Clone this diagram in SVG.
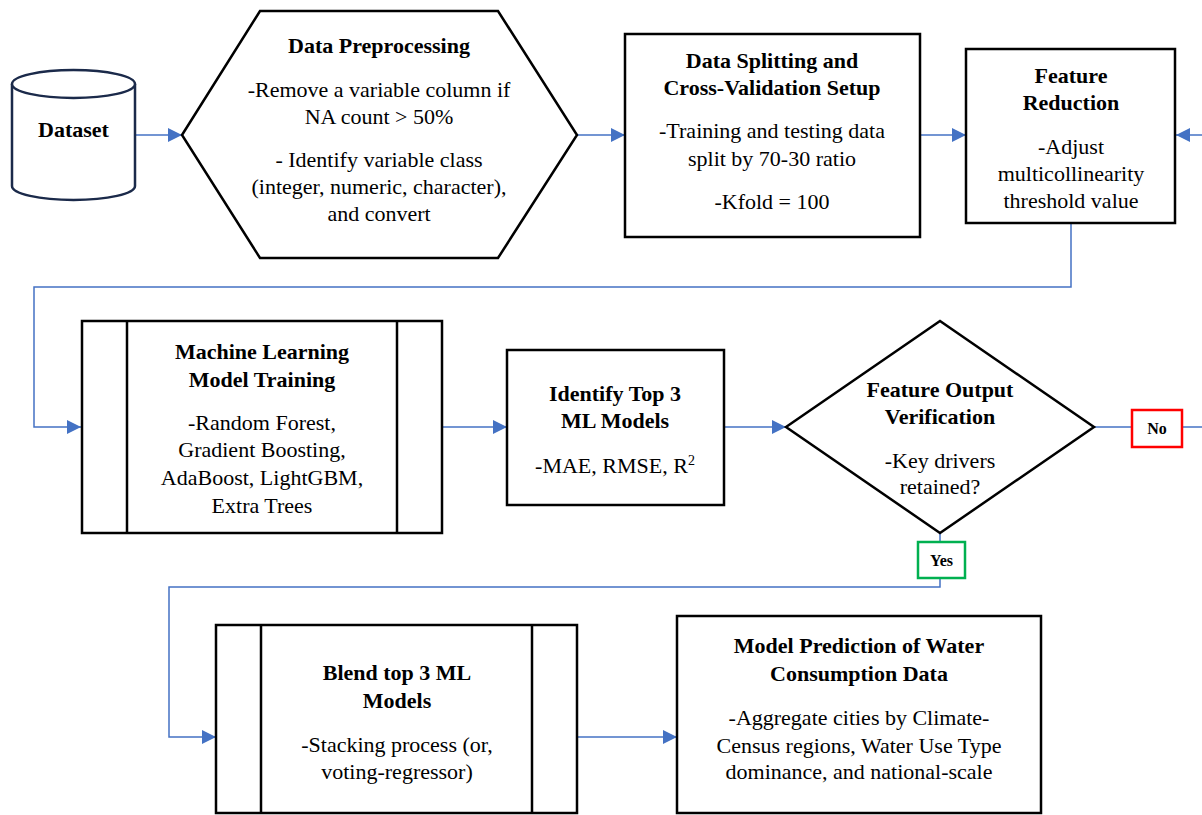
<svg xmlns="http://www.w3.org/2000/svg" width="1202" height="815" viewBox="0 0 1202 815">
<defs>
<style>
.box{fill:#fff;stroke:#000;stroke-width:2.5}
.cyl{fill:#fff;stroke:#1b2a4a;stroke-width:2.5}
.conn{fill:none;stroke:#4472C4;stroke-width:1.5}
.t{font-family:'Liberation Serif','Times New Roman',serif;font-size:22px;fill:#000;text-anchor:middle}
.b{font-weight:bold}
.lbl{font-family:'Liberation Serif','Times New Roman',serif;font-size:16px;font-weight:bold;fill:#000;text-anchor:middle}
</style>
<marker id="ah" markerWidth="15" markerHeight="14" refX="14" refY="7" orient="auto" markerUnits="userSpaceOnUse">
<path d="M0,0 L14,7 L0,14 Z" fill="#4472C4"/>
</marker>
</defs>
<rect width="1202" height="815" fill="#fff"/>

<g id="connectors">
<path class="conn" d="M135,135 H182" marker-end="url(#ah)"/>
<path class="conn" d="M577,135 H625" marker-end="url(#ah)"/>
<path class="conn" d="M920,135 H966" marker-end="url(#ah)"/>
<path class="conn" d="M1202,135 H1176" marker-end="url(#ah)"/>
<path class="conn" d="M1071,223 V287 H34 V427 H81" marker-end="url(#ah)"/>
<path class="conn" d="M442,427 H507" marker-end="url(#ah)"/>
<path class="conn" d="M724,427 H786" marker-end="url(#ah)"/>
<path class="conn" d="M1094,427 H1132"/>
<path class="conn" d="M1182,427 H1202"/>
<path class="conn" d="M940,533 V542"/>
<path class="conn" d="M940,578 V587 H169 V737 H216" marker-end="url(#ah)"/>
<path class="conn" d="M577,737 H677" marker-end="url(#ah)"/>
</g>

<g id="dataset">
<path class="cyl" d="M12,84 V186 A61.5,14 0 0 0 135,186 V84"/>
<ellipse class="cyl" cx="73.5" cy="84" rx="61.5" ry="14"/>
<text class="t b" x="73.5" y="137">Dataset</text>
</g>

<g id="preprocessing">
<polygon class="box" points="182,135 260,11 498,11 577,135 498,258 260,258"/>
<text class="t b" x="379" y="53">Data Preprocessing</text>
<text class="t" x="379" y="97">-Remove a variable column if</text>
<text class="t" x="379" y="124">NA count &gt; 50%</text>
<text class="t" x="379" y="167">- Identify variable class</text>
<text class="t" x="379" y="194">(integer, numeric, character),</text>
<text class="t" x="379" y="221">and convert</text>
</g>

<g id="splitting">
<rect class="box" x="625" y="34" width="295" height="203"/>
<text class="t b" x="772" y="68">Data Splitting and</text>
<text class="t b" x="772" y="95">Cross-Validation Setup</text>
<text class="t" x="772" y="138">-Training and testing data</text>
<text class="t" x="772" y="166">split by 70-30 ratio</text>
<text class="t" x="772" y="209">-Kfold = 100</text>
</g>

<g id="reduction">
<rect class="box" x="966" y="49" width="209" height="174"/>
<text class="t b" x="1071" y="83">Feature</text>
<text class="t b" x="1071" y="110">Reduction</text>
<text class="t" x="1071" y="154">-Adjust</text>
<text class="t" x="1071" y="181">multicollinearity</text>
<text class="t" x="1071" y="208">threshold value</text>
</g>

<g id="training">
<rect class="box" x="82" y="321" width="360" height="212"/>
<line x1="127" y1="321" x2="127" y2="533" stroke="#000" stroke-width="2.5"/>
<line x1="397" y1="321" x2="397" y2="533" stroke="#000" stroke-width="2.5"/>
<text class="t b" x="262" y="359">Machine Learning</text>
<text class="t b" x="262" y="387">Model Training</text>
<text class="t" x="262" y="430">-Random Forest,</text>
<text class="t" x="262" y="457">Gradient Boosting,</text>
<text class="t" x="262" y="485">AdaBoost, LightGBM,</text>
<text class="t" x="262" y="513">Extra Trees</text>
</g>

<g id="identify">
<rect class="box" x="507" y="350" width="217" height="155"/>
<text class="t b" x="615" y="401">Identify Top 3</text>
<text class="t b" x="615" y="428">ML Models</text>
<text class="t" x="615" y="473">-MAE, RMSE, R<tspan font-size="14" dy="-8">2</tspan></text>
</g>

<g id="verification">
<polygon class="box" points="786,427 940,321 1094,427 940,533"/>
<text class="t b" x="940" y="397">Feature Output</text>
<text class="t b" x="940" y="424">Verification</text>
<text class="t" x="940" y="468">-Key drivers</text>
<text class="t" x="940" y="494">retained?</text>
</g>

<g id="no-label">
<rect x="1132" y="410" width="50" height="37" fill="#fff" stroke="#FF0000" stroke-width="2.5"/>
<text class="lbl" x="1157" y="434">No</text>
</g>

<g id="yes-label">
<rect x="918" y="542" width="47" height="36" fill="#fff" stroke="#00B050" stroke-width="2.5"/>
<text class="lbl" x="941.5" y="566">Yes</text>
</g>

<g id="blend">
<rect class="box" x="216" y="625" width="361" height="188"/>
<line x1="261" y1="625" x2="261" y2="813" stroke="#000" stroke-width="2.5"/>
<line x1="532" y1="625" x2="532" y2="813" stroke="#000" stroke-width="2.5"/>
<text class="t b" x="397" y="680">Blend top 3 ML</text>
<text class="t b" x="397" y="708">Models</text>
<text class="t" x="397" y="752">-Stacking process (or,</text>
<text class="t" x="397" y="779">voting-regressor)</text>
</g>

<g id="prediction">
<rect class="box" x="677" y="616" width="364" height="197"/>
<text class="t b" x="859" y="653">Model Prediction of Water</text>
<text class="t b" x="859" y="681">Consumption Data</text>
<text class="t" x="859" y="725">-Aggregate cities by Climate-</text>
<text class="t" x="859" y="753">Census regions, Water Use Type</text>
<text class="t" x="859" y="779">dominance, and national-scale</text>
</g>
</svg>
